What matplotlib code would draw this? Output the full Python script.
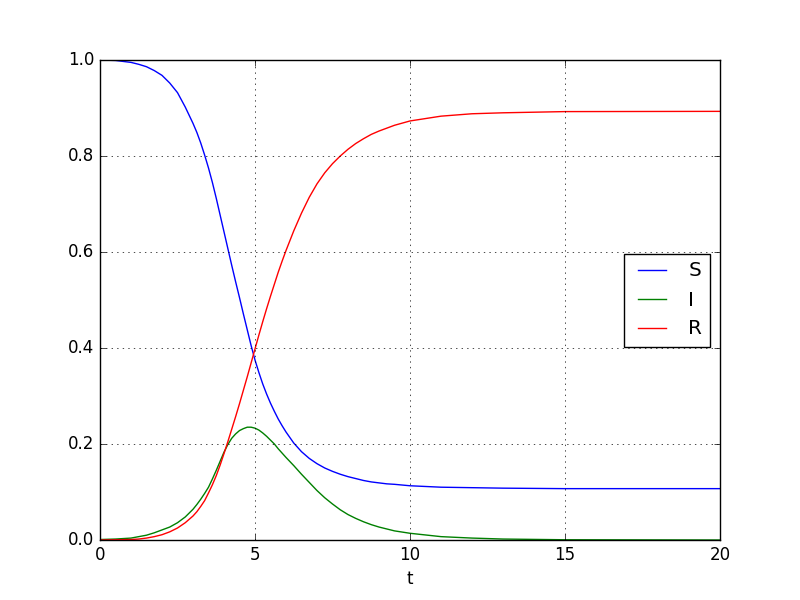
import numpy as np
import matplotlib
matplotlib.use('Agg')
import matplotlib.pyplot as plt

# values
t = [0, 0.5, 1.0,
     1.25, 1.5, 1.75, 2.0,
     2.25, 2.5, 2.75, 3.0,
     3.125, 3.25, 3.375, 3.5,
     3.625, 3.75, 3.875, 4.0,
     4.125, 4.25, 4.375, 4.5,
     4.625, 4.75, 4.875, 5.0,
     5.125, 5.25, 5.375, 5.5,
     5.625, 5.75, 5.875, 6.0,
     6.25, 6.5, 6.75, 7.0,
     7.25, 7.5, 7.75, 8.0,
     8.25, 8.5, 8.75, 9.0,
     9.25, 9.5, 10, 11,
     12, 13, 15, 20]

S = [1.0, 0.999, 0.995,
     0.991, 0.986, 0.978, 0.968,
     0.952, 0.932, 0.902, 0.868,
     0.849, 0.827, 0.802, 0.775,
     0.745, 0.712, 0.677, 0.642,
     0.607, 0.572, 0.538, 0.505,
     0.471, 0.438, 0.405, 0.375,
     0.349, 0.325, 0.304, 0.285,
     0.268, 0.252, 0.238, 0.225,
     0.202, 0.184, 0.17, 0.159,
     0.15, 0.143, 0.137, 0.132,
     0.128, 0.124, 0.121, 0.119,
     0.117, 0.116, 0.113, 0.11,
     0.109, 0.108, 0.107, 0.107]

I = [0.001, 0.002, 0.004,
     0.007, 0.010, 0.015, 0.021,
     0.027, 0.036, 0.048, 0.064,
     0.074, 0.085, 0.097, 0.11,
     0.127, 0.145, 0.164, 0.183,
     0.199, 0.212, 0.221, 0.228,
     0.232, 0.235, 0.235, 0.233,
     0.229, 0.223, 0.216, 0.208,
     0.2, 0.19, 0.181, 0.172,
     0.155, 0.137, 0.12, 0.103,
     0.088, 0.075, 0.063, 0.053,
     0.045, 0.038, 0.032, 0.027,
     0.023, 0.019, 0.014, 0.007,
     0.004, 0.002, 0.0005, 0.0]

R = [0.0, 0.0005, 0.001,
     0.002, 0.004, 0.007, 0.011,
     0.017, 0.025, 0.036, 0.05,
     0.059, 0.07, 0.082, 0.098,
     0.115, 0.134, 0.156, 0.18,
     0.205, 0.231, 0.257, 0.284,
     0.312, 0.34, 0.369, 0.398,
     0.427, 0.455, 0.482, 0.508,
     0.533, 0.558, 0.581, 0.603,
     0.644, 0.681, 0.714, 0.742,
     0.765, 0.784, 0.8, 0.814,
     0.826, 0.836, 0.845, 0.852,
     0.858, 0.864, 0.873, 0.883,
     0.888, 0.89, 0.8925, 0.893]

plt.style.use('classic')
fig = plt.figure(figsize=(8, 6), dpi=100)
ax = fig.add_subplot(111)

ax.plot(t, S, 'b', label='S')
ax.plot(t, I, 'g', label='I')
ax.plot(t, R, 'r', label='R')

ax.set_xlim(0, 20)
ax.set_ylim(0, 1)
ax.set_xlabel('t')
ax.grid(True)
ax.legend(loc='center right')

fig.savefig('out.png', dpi=100, facecolor='white')
